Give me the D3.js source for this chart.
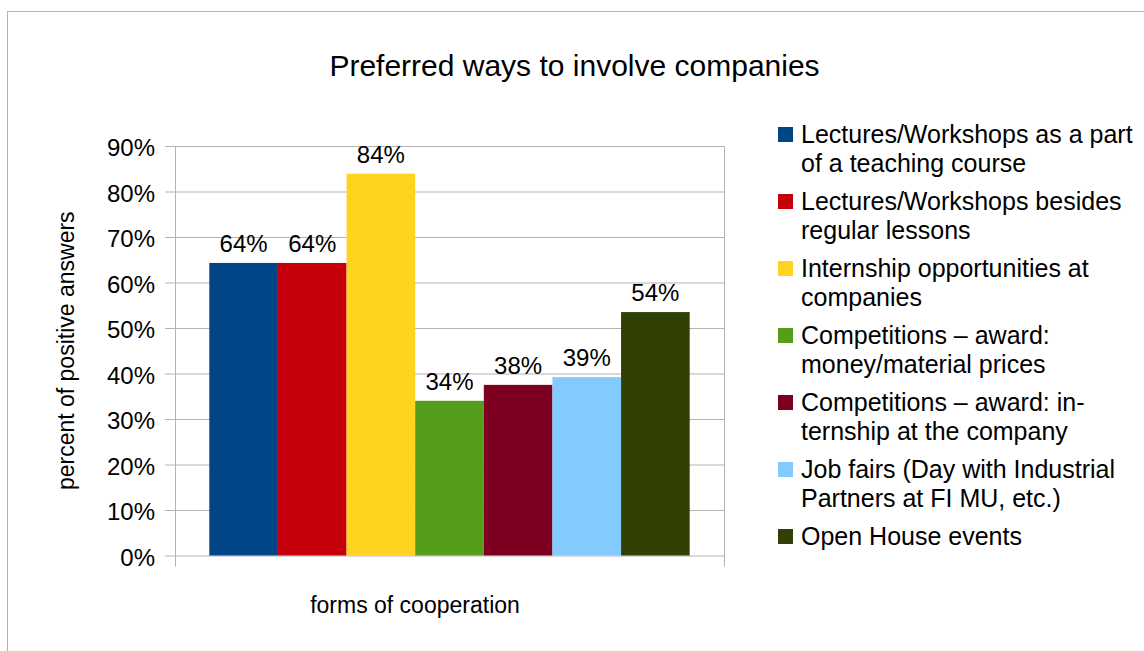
<!DOCTYPE html>
<html>
<head>
<meta charset="utf-8">
<script src="https://cdn.jsdelivr.net/npm/d3@7"></script>
<style>
  html, body { margin: 0; padding: 0; background: #fff; }
  svg { display: block; font-family: "Liberation Sans", Arial, sans-serif; }
</style>
</head>
<body>
<svg id="chart" width="1144" height="651"></svg>
<script>
// Survey answers: share of respondents in favour of each form of cooperation
const seriesNames = [
  "Lectures/Workshops as a part of a teaching course",
  "Lectures/Workshops besides regular lessons",
  "Internship opportunities at companies",
  "Competitions – award: money/material prices",
  "Competitions – award: internship at the company",
  "Job fairs (Day with Industrial Partners at FI MU, etc.)",
  "Open House events"
];
const legendLines = [
  ["Lectures/Workshops as a part", "of a teaching course"],
  ["Lectures/Workshops besides", "regular lessons"],
  ["Internship opportunities at", "companies"],
  ["Competitions – award:", "money/material prices"],
  ["Competitions – award: in-", "ternship at the company"],
  ["Job fairs (Day with Industrial", "Partners at FI MU, etc.)"],
  ["Open House events"]
];
const values = [0.643, 0.643, 0.839, 0.340, 0.375, 0.392, 0.535];
const seriesColors = ["#004586", "#c5000b", "#ffd320", "#579d1c", "#7e0021", "#83caff", "#314004"];
const yTicks = [0, 0.1, 0.2, 0.3, 0.4, 0.5, 0.6, 0.7, 0.8, 0.9];
const chartTitle = "Preferred ways to involve companies";
const xTitle = "forms of cooperation";
const yTitle = "percent of positive answers";

const svg = d3.select("#chart");
const plot = { left: 175, right: 724, top: 146, bottom: 555.5 };
const gridColor = "#b3b3b3";
const pct = d3.format(".0%");

// outer frame of the chart object
svg.append("rect")
  .attr("x", 7.5).attr("y", 11.5)
  .attr("width", 1200).attr("height", 700)
  .attr("fill", "#fff").attr("stroke", gridColor).attr("stroke-width", 1);

const y = d3.scaleLinear().domain([0, 0.9]).range([plot.bottom, plot.top]);
const x = d3.scaleBand().domain(seriesNames)
  .range([plot.left, plot.right]).paddingInner(0).paddingOuter(0.5);

// horizontal gridlines with left tick marks
const yAxis = d3.axisLeft(y).tickValues(yTicks).tickFormat(pct)
  .tickSize(-(plot.right - plot.left)).tickPadding(20);
const gy = svg.append("g").attr("transform", `translate(${plot.left},0)`).call(yAxis);
gy.select(".domain").remove();
gy.selectAll(".tick line").attr("stroke", gridColor).attr("x1", -10);
gy.selectAll(".tick text")
  .attr("fill", "#000").attr("font-size", 24)
  .attr("font-family", "Liberation Sans, Arial, sans-serif")
  .attr("dy", "0.4em");

// plot borders and category tick marks
svg.append("line")
  .attr("x1", plot.left + 0.5).attr("x2", plot.left + 0.5)
  .attr("y1", plot.top).attr("y2", plot.bottom + 11)
  .attr("stroke", gridColor);
svg.append("line")
  .attr("x1", plot.right + 0.5).attr("x2", plot.right + 0.5)
  .attr("y1", plot.top).attr("y2", plot.bottom + 11)
  .attr("stroke", gridColor);

// bars
svg.append("g").selectAll("rect").data(values).join("rect")
  .attr("x", (d, i) => x(seriesNames[i]))
  .attr("width", x.bandwidth())
  .attr("y", d => y(d))
  .attr("height", d => y(0) - y(d))
  .attr("fill", (d, i) => seriesColors[i]);

// value labels above the bars
svg.append("g").selectAll("text").data(values).join("text")
  .attr("x", (d, i) => x(seriesNames[i]) + x.bandwidth() / 2)
  .attr("y", d => y(d) - 11)
  .attr("text-anchor", "middle")
  .attr("font-size", 24)
  .attr("fill", "#000")
  .text(d => pct(d));

// titles
svg.append("text")
  .attr("x", 574.5).attr("y", 76)
  .attr("text-anchor", "middle").attr("font-size", 30).attr("fill", "#000")
  .text(chartTitle);
svg.append("text")
  .attr("x", 415).attr("y", 613)
  .attr("text-anchor", "middle").attr("font-size", 23).attr("fill", "#000")
  .text(xTitle);
svg.append("text")
  .attr("transform", `translate(74,${(plot.top + plot.bottom) / 2}) rotate(-90)`)
  .attr("text-anchor", "middle").attr("font-size", 23).attr("fill", "#000")
  .text(yTitle);

// legend
const legend = svg.append("g").attr("transform", "translate(778,0)");
const item = legend.selectAll("g").data(seriesNames).join("g")
  .attr("transform", (d, i) => `translate(0,${143 + i * 67})`);
item.append("rect")
  .attr("x", 0).attr("y", -16).attr("width", 15).attr("height", 15)
  .attr("fill", (d, i) => seriesColors[i]);
item.append("text")
  .attr("x", 23).attr("font-size", 25).attr("fill", "#000")
  .selectAll("tspan").data((d, i) => legendLines[i]).join("tspan")
  .attr("x", 23).attr("y", (d, j) => j * 29)
  .text(d => d);
</script>
</body>
</html>
